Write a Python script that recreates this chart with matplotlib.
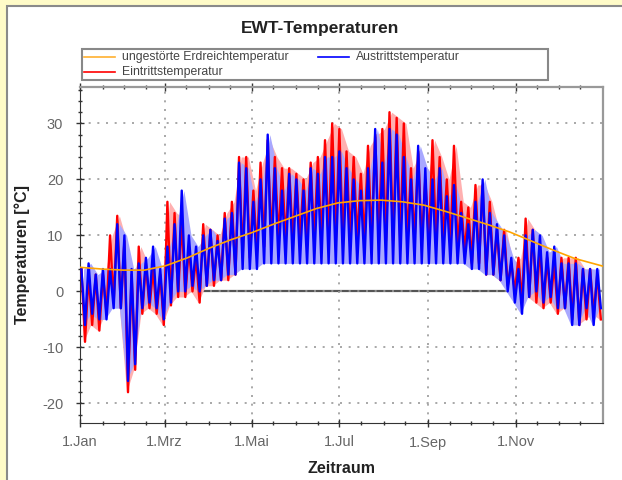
import matplotlib
matplotlib.use("Agg")
import matplotlib.pyplot as plt
from matplotlib.lines import Line2D
from matplotlib.patches import Rectangle
from matplotlib.ticker import FixedLocator, MultipleLocator

plt.rcParams["font.family"] = ["Liberation Sans", "DejaVu Sans"]
plt.rcParams["axes.unicode_minus"] = False

ground_days = [0, 15, 30, 45, 60, 75, 90, 105, 120, 135, 150, 165, 180,
               195, 210, 225, 240, 255, 270, 285, 300, 315, 330, 345, 365]
ground_temp = [4.3, 4.0, 3.8, 3.8, 4.6, 6.0, 7.7, 9.2, 10.5, 12.0, 13.4, 14.8, 15.8,
               16.2, 16.3, 16.0, 15.4, 14.3, 13.1, 11.9, 10.6, 9.0, 7.4, 5.9, 4.5]

# 5-Tages-Perioden: Maxima / Minima
period_len = 5
blue_hi = [4, 5, 3, 4, 4, 12, 10, 4, 5, 6, 8, 4,
           8, 12, 18, 10, 8, 10, 11, 9, 13, 14, 23, 22,
           16, 20, 28, 22, 18, 21, 20, 18, 22, 21, 24, 24,
           25, 22, 20, 18, 22, 29, 23, 29, 28, 24, 20, 26,
           22, 20, 22, 17, 19, 14, 12, 16, 20, 14, 12, 10,
           6, 4, 10, 11, 10, 7, 8, 5, 5, 5, 4, 4, 4]
blue_lo = [-6, -4, -5, -5, -3, -3, -16, -13, -3, -2, -3, -5,
           -2, 0, 0, 1, 0, 1, 2, 2, 3, 3, 4, 4,
           4, 5, 5, 5, 5, 5, 5, 5, 5, 5, 5, 5,
           5, 5, 5, 5, 5, 5, 5, 5, 5, 5, 5, 5,
           5, 5, 5, 5, 5, 5, 4, 4, 3, 3, 2, 0,
           -2, -4, -1, 0, -2, -1, -3, -3, -6, -6, -3, -6, -3]
red_hi = [4, 3, 3, 3, 10, 13.5, 9, 3, 8, 5, 4, 3,
          16, 14, 13, 8, 6, 12, 11, 10, 14, 16, 24, 24,
          18, 23, 27, 24, 22, 22, 21, 20, 23, 24, 27, 30,
          29, 25, 24, 21, 26, 28, 29, 32, 31, 30, 22, 25,
          20, 27, 24, 20, 26, 16, 15, 19, 19, 16, 11, 11,
          5, 6, 13, 11, 8, 6, 5, 6, 6, 6, 4, 4, 3]
red_lo = [-9, -6, -7, -4, -2, -3, -18, -14, -4, -3, -4, -6,
          -2.5, -1, -1, 0, -2, 1, 1, 2, 2, 3, 6, 6,
          7, 8, 9, 9, 9, 9, 9, 9, 9, 9, 9, 9,
          9, 9, 9, 9, 9, 9, 9, 9, 9, 9, 9, 9,
          9, 9, 9, 8, 8, 7, 5, 5, 3, 3, 2, 1,
          0, -2, -1, -2, -3, -2, -4, -3, -5, -6, -5, -4, -5]

month_ticks = [0, 59, 120, 181, 243, 304]
month_labels = ["1.Jan", "1.Mrz", "1.Mai", "1.Jul", "1.Sep", "1.Nov"]
half_month_ticks = [16, 31, 46, 74, 90, 105, 135, 151, 166, 196, 212, 227,
                    258, 273, 288, 319, 334, 349]

legend_labels = ["ungestörte Erdreichtemperatur", "Eintrittstemperatur", "Austrittstemperatur"]
legend_colors = ["#ffb030", "red", "blue"]


def zigzag(hi, lo):
    xs, ys = [], []
    for i, (h, l) in enumerate(zip(hi, lo)):
        xs += [i * period_len + 1.0, i * period_len + 3.5]
        ys += [h, l]
    return xs, ys


fig = plt.figure(figsize=(6.22, 4.8), dpi=100, facecolor="#fffbc8")
W, H = 622, 480
fig.add_artist(Rectangle((7 / W, -0.01), 1, 1.01 - 6 / H, transform=fig.transFigure,
                         facecolor="white", edgecolor="#8a8a8a", linewidth=1.5, zorder=-10))

ax = fig.add_axes([80 / W, 57 / H, 523 / W, 336 / H])

rx, ry = zigzag(red_hi, red_lo)
bx, by = zigzag(blue_hi, blue_lo)
px = [i * period_len + 2.5 for i in range(len(blue_hi))]
ax.axhline(0, color="#555555", linewidth=1.6, zorder=1)
ax.fill_between(px, red_lo, red_hi, color="#ffb0b0", linewidth=0, zorder=2)
ax.fill_between(px, blue_lo, blue_hi, color="#a8a8ff", linewidth=0, zorder=2.5)
ax.plot(rx, ry, color="red", linewidth=1.7, zorder=3)
ax.plot(bx, by, color="blue", linewidth=1.7, zorder=3.5)
ax.plot(ground_days, ground_temp, color="orange", linewidth=1.2, zorder=4)

ax.set_xlim(0, 365)
ax.set_ylim(-23.5, 36.5)
ax.xaxis.set_major_locator(FixedLocator(month_ticks))
ax.set_xticklabels(month_labels)
ax.xaxis.set_minor_locator(FixedLocator(half_month_ticks))
ax.yaxis.set_major_locator(FixedLocator([-20, -10, 0, 10, 20, 30]))
ax.yaxis.set_minor_locator(MultipleLocator(2))

ax.tick_params(which="both", direction="inout", colors="#333333", labelcolor="#666666",
               labelsize=10.5, top=True)
ax.tick_params(axis="y", which="major", pad=9)
ax.tick_params(axis="x", which="major", pad=6)
ax.tick_params(which="major", length=6, width=1)
ax.tick_params(which="minor", length=3, width=1)
ax.grid(True, which="major", linestyle=(0, (1.2, 4)), color="#999999", linewidth=1.2)

for side in ("left", "bottom"):
    ax.spines[side].set_color("#333333")
for side in ("top", "right"):
    ax.spines[side].set_color("#999999")
    ax.spines[side].set_linewidth(1.6)

ax.set_xlabel("Zeitraum", fontsize=11.5, fontweight="bold", color="#222222", labelpad=8)
ax.set_ylabel("Temperaturen [°C]", fontsize=11.5, fontweight="bold", color="#222222",
              labelpad=9)

fig.text(320 / W, 1 - 28 / H, "EWT-Temperaturen", ha="center", va="center",
         fontsize=12.5, fontweight="bold", color="#222222")

# Legende von Hand, wie im Original
fig.add_artist(Rectangle((82 / W, 1 - 80 / H), 466 / W, 31 / H, transform=fig.transFigure,
                         facecolor="white", edgecolor="#888888", linewidth=1.5))
legend_pos = [(84, 57), (84, 72), (318, 57)]
for (lx, ly), lab, col in zip(legend_pos, legend_labels, legend_colors):
    fig.add_artist(Line2D([lx / W, (lx + 31) / W], [1 - ly / H, 1 - ly / H],
                          transform=fig.transFigure, color=col, linewidth=1.2))
    fig.text((lx + 38) / W, 1 - ly / H, lab, ha="left", va="center", fontsize=8.8,
             color="#444444")

fig.savefig("out.png", dpi=100, facecolor=fig.get_facecolor())
